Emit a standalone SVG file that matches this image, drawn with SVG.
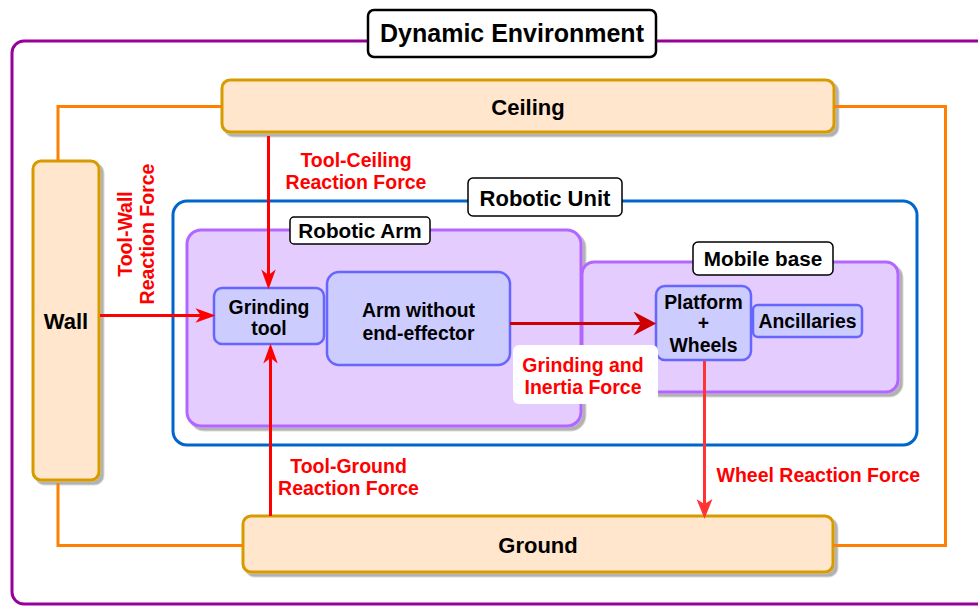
<svg xmlns="http://www.w3.org/2000/svg" width="978" height="606" viewBox="0 0 978 606">
<defs>
<style>
text{font-family:"Liberation Sans",Arial,Helvetica,sans-serif;font-weight:bold;text-anchor:middle;fill:#000}
.env{fill:#ffe6cc;stroke:#d79b00;stroke-width:3}
.cont{fill:#e5ccff;stroke:#b266ff;stroke-width:3}
.inner{fill:#ccccff;stroke:#6666ff;stroke-width:2.5}
.lbl{fill:#fff;stroke:#000;stroke-width:1.5}
.sh{filter:url(#shadow)}
.t22{font-size:22px}
.t20{font-size:20.7px}
.t19{font-size:19.4px}
.red{fill:#ff0000;font-size:19.5px}
.orange{fill:none;stroke:#ff8000;stroke-width:3}
.arr{fill:none;stroke-width:3}
</style>
<filter id="shadow" x="-5%" y="-5%" width="115%" height="120%">
<feDropShadow dx="3.5" dy="3.5" stdDeviation="0.6" flood-color="#000" flood-opacity="0.3"/>
</filter>
<marker id="mRed" markerUnits="userSpaceOnUse" markerWidth="20" markerHeight="16" viewBox="0 0 18 13" refX="5" refY="6.5" orient="auto">
<path d="M0,0 L18,6.5 L0,13 L5,6.5 Z" fill="#ff0000"/>
</marker>
<marker id="mLight" markerUnits="userSpaceOnUse" markerWidth="20" markerHeight="16" viewBox="0 0 16 13" refX="4" refY="6.5" orient="auto">
<path d="M0,0 L16,6.5 L0,13 L4,6.5 Z" fill="#ff3333"/>
</marker>
<marker id="mDark" markerUnits="userSpaceOnUse" markerWidth="24" markerHeight="24" viewBox="0 0 21 22" refX="7" refY="11" orient="auto">
<path d="M0,0 L21,11 L0,22 L7,11 Z" fill="#cc0000"/>
</marker>
</defs>

<g id="dynamic-environment">
<rect x="12" y="41" width="990" height="563" rx="12" fill="none" stroke="#990099" stroke-width="3"/>
<rect x="368" y="10" width="288" height="47" rx="6" fill="#fff" stroke="#000" stroke-width="2.5"/>
<text x="512" y="42" style="font-size:25px">Dynamic Environment</text>
</g>

<g id="ceiling">
<rect class="env sh" x="222" y="80" width="612" height="52" rx="8"/>
<text class="t22" x="528" y="114.5">Ceiling</text>
</g>

<g id="wall">
<rect class="env sh" x="33" y="161" width="66" height="319" rx="8"/>
<text class="t22" x="66" y="328.5">Wall</text>
</g>

<g id="ground">
<rect class="env sh" x="243" y="516" width="590" height="56" rx="8"/>
<text class="t22" x="538" y="552.5">Ground</text>
</g>

<g id="robotic-unit">
<rect x="173" y="201" width="744" height="244" rx="14" fill="none" stroke="#0066cc" stroke-width="3"/>
<rect class="lbl" x="468" y="178" width="154" height="38" rx="5"/>
<text class="t22" x="545" y="205.5">Robotic Unit</text>
</g>

<g id="robotic-arm">
<rect class="cont sh" x="187" y="230" width="394" height="196" rx="14"/>
<rect class="lbl" x="290" y="217" width="140" height="27" rx="4"/>
<text class="t20" x="360" y="238">Robotic Arm</text>
</g>

<g id="mobile-base">
<rect class="cont sh" x="582" y="262" width="316" height="130" rx="12"/>
<rect class="lbl" x="693" y="242" width="140" height="33" rx="5"/>
<text class="t20" x="763" y="266">Mobile base</text>
</g>

<g id="grinding-tool">
<rect class="inner" x="214" y="288" width="110" height="56" rx="8"/>
<text class="t19" x="269" y="314">Grinding</text>
<text class="t19" x="269" y="335">tool</text>
</g>

<g id="arm-without-end-effector">
<rect class="inner" x="327" y="272" width="183" height="93" rx="12"/>
<text class="t19" x="418.5" y="317">Arm without</text>
<text class="t19" x="418.5" y="339.5">end-effector</text>
</g>

<g id="platform-wheels">
<rect class="inner" x="656" y="286" width="95" height="74" rx="9"/>
<text class="t19" x="703.5" y="308.5">Platform</text>
<text class="t19" x="703.5" y="329.5">+</text>
<text class="t19" x="703.5" y="352">Wheels</text>
</g>

<g id="ancillaries">
<rect class="inner" x="753" y="305" width="109" height="32" rx="5"/>
<text class="t19" x="807.5" y="328">Ancillaries</text>
</g>

<g id="connectors">
<path class="orange" d="M222,106.5 H58 V161"/>
<path class="orange" d="M58,483 V545.5 H243"/>
<path class="orange" d="M834,106.5 H945.5 V545.5 H833"/>

<path class="arr" stroke="#ff0000" d="M268.5,136 V275" marker-end="url(#mRed)"/>
<text class="red" x="356" y="167">Tool-Ceiling</text>
<text class="red" x="356" y="188.5">Reaction Force</text>

<path class="arr" stroke="#ff0000" d="M100,315.5 H201" marker-end="url(#mRed)"/>
<g transform="translate(131.5,234) rotate(-90)">
<text class="red" x="0" y="0">Tool-Wall</text>
<text class="red" x="0" y="22">Reaction Force</text>
</g>

<path class="arr" stroke="#ff0000" d="M270.5,516 V358" marker-end="url(#mRed)"/>
<text class="red" x="348.5" y="473">Tool-Ground</text>
<text class="red" x="348.5" y="495">Reaction Force</text>

<path class="arr" stroke="#cc0000" stroke-width="4" d="M510,323.5 H641" marker-end="url(#mDark)"/>
<rect x="513" y="345" width="145" height="59" rx="6" fill="#fff"/>
<text class="red" x="583" y="372">Grinding and</text>
<text class="red" x="583" y="394">Inertia Force</text>

<path class="arr" stroke="#ff3333" d="M704.5,361 V504" marker-end="url(#mLight)"/>
<text class="red" x="716.5" y="481.5" style="text-anchor:start">Wheel Reaction Force</text>
</g>
</svg>
